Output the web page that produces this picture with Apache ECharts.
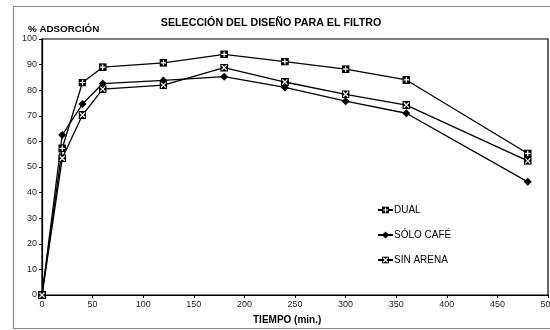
<!DOCTYPE html>
<html><head><meta charset="utf-8">
<script src="https://cdn.jsdelivr.net/npm/echarts@6/dist/echarts.min.js"></script>
<style>html,body{margin:0;padding:0;background:#fff}#c{width:550px;height:330px}</style>
</head><body><div id="c"></div>
<script>
const tiempo = [0, 20, 40, 60, 120, 180, 240, 300, 360, 480];
const dual = [0, 57.3, 83, 89, 90.7, 94, 91.2, 88.2, 84, 55.3];
const soloCafe = [0, 62.5, 74.6, 82.6, 83.8, 85.3, 81.1, 75.7, 71, 44.2];
const sinArena = [0, 53.4, 70.3, 80.4, 82, 88.8, 83.2, 78.4, 74.2, 52.4];
const seriesNames = ['DUAL', 'SÓLO CAFÉ', 'SIN ARENA'];

const svgPlus = "<svg xmlns='http://www.w3.org/2000/svg' width='16' height='16'><rect width='16' height='16' fill='black'/><path d='M8 2.5V13.5M2.5 8H13.5' stroke='white' stroke-width='2.4'/></svg>";
const svgX = "<svg xmlns='http://www.w3.org/2000/svg' width='16' height='16'><rect width='16' height='16' fill='black'/><path d='M3 3L13 13M13 3L3 13' stroke='white' stroke-width='2.4'/></svg>";
const symPlus = 'image://data:image/svg+xml;charset=utf-8,' + encodeURIComponent(svgPlus);
const symX = 'image://data:image/svg+xml;charset=utf-8,' + encodeURIComponent(svgX);

const pair = arr => tiempo.map((t, i) => [t, arr[i]]);
const font = 'Liberation Sans, Arial, sans-serif';

const chart = echarts.init(document.getElementById('c'), null, {renderer: 'canvas'});
chart.setOption({
  animation: false,
  backgroundColor: '#fff',
  graphic: [
    {type: 'rect', shape: {x: 13.5, y: 6.5, width: 545, height: 322}, style: {fill: 'none', stroke: '#888', lineWidth: 1.2}, z: 0},
    {type: 'text', style: {text: 'SELECCIÓN DEL DISEÑO PARA EL FILTRO', font: 'bold 10.7px ' + font, fill: '#000', textAlign: 'center', textVerticalAlign: 'middle'}, position: [271, 23]},
    {type: 'text', style: {text: '% ADSORCIÓN', font: 'bold 9.8px ' + font, fill: '#000', textAlign: 'left', textVerticalAlign: 'middle'}, position: [28, 29]},
    {type: 'text', style: {text: 'TIEMPO (min.)', font: 'bold 10px ' + font, fill: '#000', textAlign: 'left', textVerticalAlign: 'middle'}, position: [253, 320]}
  ],
  grid: {left: 42, right: 2, top: 39, bottom: 35, outerBoundsMode: 'none', containLabel: false,
         show: true, borderColor: '#000', borderWidth: 1.2, backgroundColor: 'transparent'},
  legend: {
    orient: 'vertical', left: 372, top: 200, itemWidth: 15, itemHeight: 9, itemGap: 15,
    textStyle: {fontFamily: font, fontSize: 10, color: '#000', padding: [0, 0, 0, -4]},
    data: seriesNames
  },
  xAxis: {
    type: 'value', min: 0, max: 500, interval: 50,
    axisLine: {show: true, lineStyle: {color: '#000', width: 1.2}},
    axisTick: {show: true, length: 3, lineStyle: {color: '#000'}},
    axisLabel: {fontFamily: font, fontSize: 9, color: '#222', margin: 5},
    splitLine: {show: false}
  },
  yAxis: {
    type: 'value', min: 0, max: 100, interval: 10,
    axisLine: {show: true, lineStyle: {color: '#000', width: 1.2}},
    axisTick: {show: true, length: 3, lineStyle: {color: '#000'}},
    axisLabel: {fontFamily: font, fontSize: 9, color: '#222', margin: 5},
    splitLine: {show: false}
  },
  series: [
    {name: seriesNames[0], type: 'line', data: pair(dual), symbol: symPlus, symbolSize: 8, showAllSymbol: true,
     itemStyle: {color: '#000'}, lineStyle: {color: '#000', width: 1.3}},
    {name: seriesNames[1], type: 'line', data: pair(soloCafe), symbol: 'diamond', symbolSize: 8, showAllSymbol: true,
     itemStyle: {color: '#000'}, lineStyle: {color: '#000', width: 1.3}},
    {name: seriesNames[2], type: 'line', data: pair(sinArena), symbol: symX, symbolSize: 8, showAllSymbol: true,
     itemStyle: {color: '#000'}, lineStyle: {color: '#000', width: 1.3}}
  ]
});
</script>
</body></html>
